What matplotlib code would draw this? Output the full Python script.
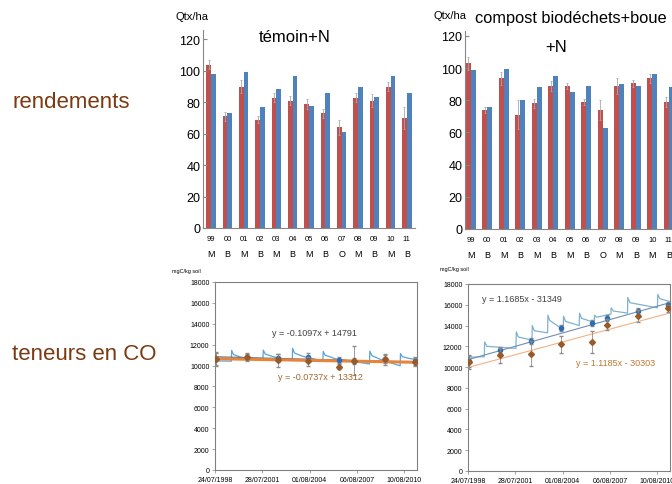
import matplotlib.pyplot as plt
import numpy as np

plt.rcParams['font.family'] = ['Liberation Sans', 'DejaVu Sans']

### - Data

years = ['99', '00', '01', '02', '03', '04', '05', '06', '07', '08', '09', '10', '11']
crops = ['M', 'B', 'M', 'B', 'M', 'B', 'M', 'B', 'O', 'M', 'B', 'M', 'B']

# rendements (Qtx/ha) - red / blue bars
temoin_red = [104, 71, 90, 69, 83, 81, 79, 73, 64, 83, 81, 90, 70]
temoin_red_err = [3, 3, 4, 2, 3, 3, 3, 3, 5, 3, 4, 3, 7]
temoin_blue = [98, 73.5, 99, 77, 88.5, 97, 77.5, 86, 61, 90, 83.5, 96.5, 86]

compost_red = [103, 74, 93.5, 71, 78, 89, 89, 79, 74, 89, 90.5, 93.5, 79]
compost_red_err = [4, 2, 4, 9, 3, 3, 2, 2, 6, 5, 2, 3, 3]
compost_blue = [99, 76, 99.5, 80, 88.5, 95, 85, 89, 63, 90, 89, 96, 88]

# teneurs en CO (mgC/kg soil), dates as excel serial days
sample_dates = [36030, 36755, 37475, 38160, 38880, 39230, 39960, 40660]

temoin_obs = [10630, 10850, 10720, 10850, 10530, 10440, 10630, 10400]
temoin_obs_err = [700, 400, 400, 350, 300, 300, 400, 300]
temoin_meas = [10620, 10800, 10500, 10400, 9900, 10480, 10600, 10380]
temoin_meas_err = [600, 300, 600, 400, 250, 1400, 500, 400]

compost_obs = [10580, 11680, 12520, 13800, 14250, 14700, 15400, 16000]
compost_obs_err = [600, 300, 300, 300, 300, 300, 300, 300]
compost_meas = [10450, 11130, 11290, 12190, 12420, 14100, 14900, 15650]
compost_meas_err = [600, 700, 1200, 800, 1100, 500, 600, 300]

# simulated (model) lines: vertices
temoin_sim_x = [36000, 36380, 36387, 36430, 36600, 37115, 37123, 37170, 37350, 37798, 37805, 37850,
                38030, 38510, 38518, 38560, 38800, 39594, 39602, 39650, 39900, 40308, 40315, 40360,
                40500, 40700]
temoin_sim_y = [10450, 10420, 11450, 11050, 10800, 10550, 11480, 11100, 10850, 10480, 11650, 11200,
                10900, 10430, 11350, 11000, 10650, 10150, 11380, 10950, 10500, 9980, 11150, 10850,
                10700, 10550]

compost_sim_x = [36000, 36380, 36387, 36440, 37115, 37123, 37170, 37488, 37495, 37540, 37852, 37859,
                 37900, 38216, 38223, 38270, 38588, 38595, 38640, 38936, 38943, 38990, 39324, 39331,
                 39380, 39711, 39718, 39770, 40408, 40415, 40460, 40700]
compost_sim_y = [10950, 11000, 12420, 12000, 11800, 13390, 12900, 12600, 14000, 13500, 13300, 15000,
                 14500, 13600, 14900, 14400, 14000, 15200, 14700, 14300, 15000, 14800, 15100, 15700,
                 15400, 15200, 16700, 16200, 15700, 17000, 16600, 16300]

# trendlines (slope, intercept) as shown in the equations
temoin_trend_obs = (-0.1097, 14791)
temoin_trend_meas = (-0.0737, 13312)
compost_trend_obs = (1.1685, -31349)
compost_trend_meas = (1.1185, -30303)

date_ticks = [36000, 37100, 38200, 39300, 40400]
date_labels = ['24/07/1998', '28/07/2001', '01/08/2004', '06/08/2007', '10/08/2010']

RED = '#C0504D'
BLUE = '#4F81BD'
BROWN = '#7B3A12'

W, H = 672, 485
fig = plt.figure(figsize=(W / 100, H / 100), dpi=100)


def px_rect(left, top, right, bottom):
    return [left / W, 1 - bottom / H, (right - left) / W, (bottom - top) / H]


### - Bar charts (rendements)
def bar_panel(rect, red, red_err, blue, xlo, ytop):
    ax = fig.add_axes(rect)
    x = np.arange(len(years))
    w = 0.29
    ax.bar(x - w / 2, red, w, color=RED, yerr=red_err,
           error_kw=dict(ecolor='#A8A8A8', elinewidth=0.6, capsize=1, capthick=0.6))
    ax.bar(x + w / 2, blue, w, color=BLUE)
    ax.set_xlim(xlo, 12.5)
    ax.set_ylim(0, ytop)
    ax.set_yticks(range(0, 121, 20))
    ax.tick_params(axis='y', direction='in', length=3, pad=2, labelsize=9, color='#888888')
    ax.set_xticks(x)
    ax.set_xticklabels(years)
    ax.tick_params(axis='x', length=0, pad=5, labelsize=5.5)
    for xi, c in zip(x, crops):
        ax.text(xi, -0.13, c, transform=ax.get_xaxis_transform(), ha='center', va='center', fontsize=6.5)
    for s in ['top', 'right']:
        ax.spines[s].set_visible(False)
    for s in ['left', 'bottom']:
        ax.spines[s].set_color('#888888')
        ax.spines[s].set_linewidth(0.8)
    return ax


ax1 = bar_panel(px_rect(203, 31, 415, 229), temoin_red, temoin_red_err, temoin_blue, -0.5, 126)
fig.text(175 / W, 1 - 17 / H, 'Qtx/ha', fontsize=8, va='center')
fig.text(295 / W, 1 - 37 / H, 'témoin+N', fontsize=12, ha='center', va='center')

ax2 = bar_panel(px_rect(465, 32, 677, 230), compost_red, compost_red_err, compost_blue, -0.35, 123)
fig.text(433 / W, 1 - 16 / H, 'Qtx/ha', fontsize=8, va='center')
fig.text(475 / W, 1 - 19 / H, 'compost biodéchets+boue', fontsize=11.8, ha='left', va='center')
fig.text(556 / W, 1 - 47 / H, '+N', fontsize=12, ha='center', va='center')


### - Soil carbon charts (teneurs en CO)
def soil_panel(rect, sim_x, sim_y, sim_col, obs, obs_err, meas, meas_err,
               trend_obs, trend_meas, obs_tcol, meas_tcol, meas_lw):
    ax = fig.add_axes(rect)
    ax.set_xlim(36000, 40700)
    ax.set_ylim(0, 18000)
    xs = np.array(ax.get_xlim())
    ax.plot(sim_x, sim_y, color=sim_col, lw=0.9, zorder=2)
    ax.plot(xs, trend_obs[0] * xs + trend_obs[1], color=obs_tcol, lw=0.8, zorder=3)
    ax.plot(xs, trend_meas[0] * xs + trend_meas[1], color=meas_tcol, lw=meas_lw, zorder=3)
    ax.errorbar(sample_dates, obs, yerr=obs_err, fmt='o', ms=3, color='#2E6DB4',
                ecolor='#8C8C8C', elinewidth=0.6, capsize=1.2, zorder=4)
    ax.errorbar(sample_dates, meas, yerr=meas_err, fmt='D', ms=3, color='#9A5A28',
                ecolor='#8C8C8C', elinewidth=0.6, capsize=1.2, zorder=5)
    ax.set_yticks(range(0, 18001, 2000))
    ax.set_xticks(date_ticks)
    ax.set_xticklabels(date_labels)
    ax.tick_params(labelsize=5, length=2, width=0.5, color='#808080', pad=2)
    for s in ax.spines.values():
        s.set_color('#808080')
        s.set_linewidth(0.8)
    return ax


ax3 = soil_panel(px_rect(215, 283, 417, 471), temoin_sim_x, temoin_sim_y, '#5BA3D9',
                 temoin_obs, temoin_obs_err, temoin_meas, temoin_meas_err,
                 temoin_trend_obs, temoin_trend_meas, '#4A6A8A', '#E8843A', 2.2)
fig.text(172 / W, 1 - 271 / H, 'mgC/kg soil', fontsize=4, va='center')
fig.text(314 / W, 1 - 333 / H, 'y = -0.1097x + 14791', fontsize=6.5, ha='center', va='center', color='#404040')
fig.text(320 / W, 1 - 378 / H, 'y = -0.0737x + 13312', fontsize=6.5, ha='center', va='center', color='#A0672F')

ax4 = soil_panel(px_rect(468, 285, 670, 472), compost_sim_x, compost_sim_y, '#7FB2D0',
                 compost_obs, compost_obs_err, compost_meas, compost_meas_err,
                 compost_trend_obs, compost_trend_meas, '#6F8FAF', '#F4B183', 0.8)
fig.text(440 / W, 1 - 270 / H, 'mgC/kg soil', fontsize=4, va='center')
fig.text(522 / W, 1 - 300 / H, 'y = 1.1685x - 31349', fontsize=6.5, ha='center', va='center', color='#404040')
fig.text(616 / W, 1 - 364 / H, 'y = 1.1185x - 30303', fontsize=6.5, ha='center', va='center', color='#C07830')

# side labels
fig.text(12 / W, 1 - 102 / H, 'rendements', fontsize=16, color=BROWN, va='center')
fig.text(12 / W, 1 - 355 / H, 'teneurs en CO', fontsize=16, color=BROWN, va='center')

fig.savefig('out.png', dpi=100)
